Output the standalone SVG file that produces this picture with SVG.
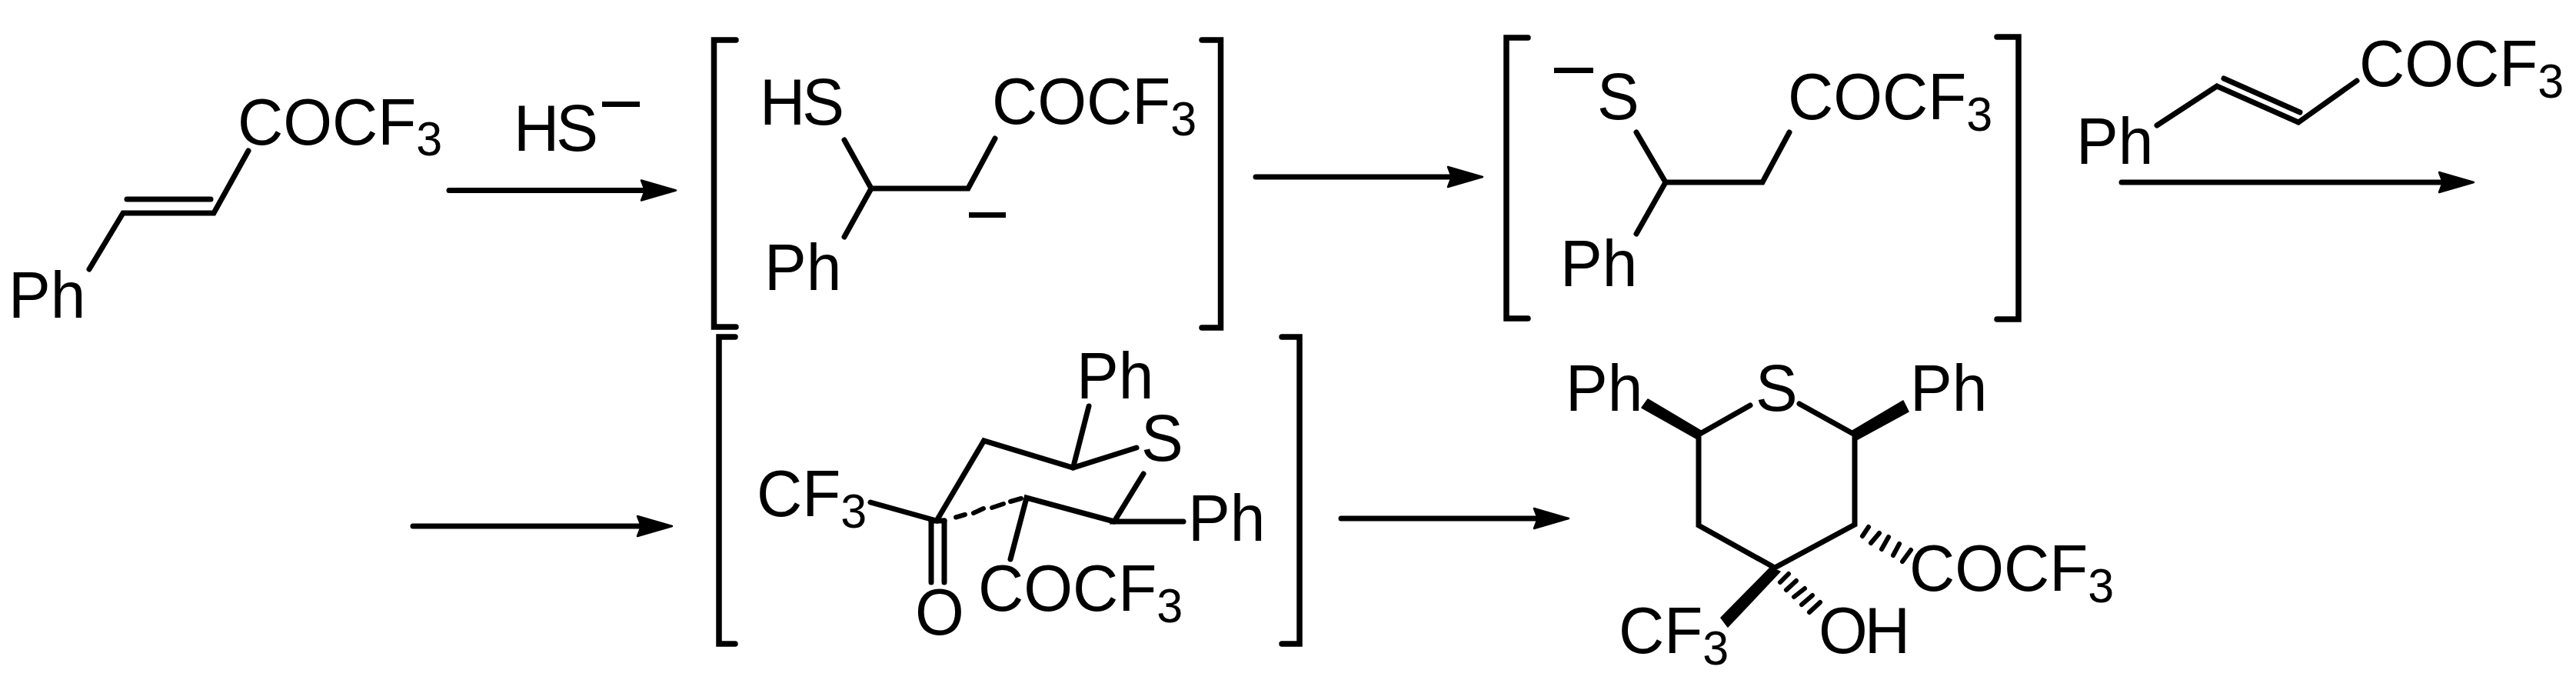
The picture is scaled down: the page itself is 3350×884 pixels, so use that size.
<svg xmlns="http://www.w3.org/2000/svg" width="3350" height="884" viewBox="0 0 3350 884">
<style>
text{font-family:"Liberation Sans",Arial,sans-serif;font-size:82px;fill:#000}
.s{font-size:61px}
.t{letter-spacing:-4px}
.b{fill:none;stroke:#000;stroke-width:7;stroke-linecap:round;stroke-linejoin:miter}
.br{fill:none;stroke:#000;stroke-width:7.500;stroke-linecap:round;stroke-linejoin:miter}
.a{fill:none;stroke:#000;stroke-width:7;stroke-linecap:round}
.h{fill:none;stroke:#000;stroke-width:6;stroke-linecap:round}
.w{fill:#000;stroke:#000;stroke-width:1.500;stroke-linejoin:round}
.m{fill:#000}
</style>
<defs>
<marker id="head" markerUnits="userSpaceOnUse" markerWidth="50" markerHeight="30" refX="6" refY="14" orient="auto" overflow="visible">
<path d="M2,1 L47,14 L2,27 L7,14 Z" fill="#000" stroke="#000" stroke-width="2.500" stroke-linejoin="round"/>
</marker>
</defs>
<rect width="3350" height="884" fill="#fff"/>
<g id="connectors">
<path class="a" marker-end="url(#head)" d="M584,247.500H838"/>
<path class="a" marker-end="url(#head)" d="M1633,230H1887"/>
<path class="a" marker-end="url(#head)" d="M2759,237H3176"/>
<path class="a" marker-end="url(#head)" d="M537,684H833"/>
<path class="a" marker-end="url(#head)" d="M1744,674H1999"/>
</g>
<g id="enone-1">
<path class="b" d="M116,350L160,277H278L323,196"/>
<path class="b" d="M165,259H274"/>
<text transform="translate(309,187.500) scale(1,1.040)">COCF<tspan class="s" dy="14.400">3</tspan></text>
<text transform="translate(11,413) scale(1,1.040)">Ph</text>
</g>
<g id="reagent-hs">
<text class="t" transform="translate(668,196) scale(1,1.040)">HS</text>
<rect class="m" x="783" y="132" width="49" height="7"/>
</g>
<g id="intermediate-1">
<path class="br" d="M957,52H928.500V425H957"/>
<path class="br" d="M1563,52H1587.500V426H1563"/>
<path class="b" d="M1098,182L1133,245H1259L1294,180"/>
<path class="b" d="M1133,245L1098,308"/>
<text class="t" transform="translate(988,161.500) scale(1,1.040)">HS</text>
<text transform="translate(994,377) scale(1,1.040)">Ph</text>
<text transform="translate(1290,161) scale(1,1.040)">COCF<tspan class="s" dy="14.400">3</tspan></text>
<rect class="m" x="1260" y="276" width="48" height="7"/>
</g>
<g id="intermediate-2">
<path class="br" d="M1987,49H1959V414H1987"/>
<path class="br" d="M2597,48H2625V415H2597"/>
<path class="b" d="M2128,172L2166,237H2292L2327,172"/>
<path class="b" d="M2166,237L2128,304"/>
<rect class="m" x="2021" y="88" width="51" height="7"/>
<text transform="translate(2077,155) scale(1,1.040)">S</text>
<text transform="translate(2029,372) scale(1,1.040)">Ph</text>
<text transform="translate(2325,155) scale(1,1.040)">COCF<tspan class="s" dy="14.400">3</tspan></text>
</g>
<g id="enone-2">
<path class="b" d="M2805,163L2883,112L2989,159L3065,105"/>
<path class="b" d="M2892,102L2991,146"/>
<text transform="translate(2700,213) scale(1,1.040)">Ph</text>
<text transform="translate(3068,112) scale(1,1.040)">COCF<tspan class="s" dy="14.400">3</tspan></text>
</g>
<g id="intermediate-3">
<path class="br" d="M956,438H935V837H956"/>
<path class="br" d="M1667,438H1690V837H1667"/>
<path class="b" d="M1132,653L1218,677L1279.500,573L1395.500,608L1478,582"/>
<path class="b" d="M1395.500,608L1416,528"/>
<path class="b" d="M1487,616L1449,678H1539"/>
<path class="b" d="M1449,678L1335,647L1314,727"/>
<path class="b" d="M1211,677V757M1228,677V757"/>
<path class="b" d="M1211,677H1228"/>
<path class="h" d="M1243,672.500L1255,669M1266,667L1279,661M1290,660L1305,655M1314,652L1328,648"/>
<text transform="translate(1400,517.500) scale(1,1.040)">Ph</text>
<text transform="translate(1484,599) scale(1,1.040)">S</text>
<text transform="translate(984,671) scale(1,1.040)">CF<tspan class="s" dy="14.400">3</tspan></text>
<text transform="translate(1545,703) scale(1,1.040)">Ph</text>
<text transform="translate(1272,794) scale(1,1.040)">COCF<tspan class="s" dy="14.400">3</tspan></text>
<text transform="translate(1190,825) scale(1,1.040)">O</text>
</g>
<g id="product">
<path class="b" d="M2276,527L2209,565V683L2308,738L2412,682V565L2340,525"/>
<polygon class="w" points="2143,519 2135,530 2206,570 2212,560"/>
<polygon class="w" points="2475,521 2482,535 2414,572 2409,560"/>
<polygon class="w" points="2302,738 2315,743 2247,815 2238,803"/>
<path class="h" d="M2422,697L2430,685M2433,706L2444,693M2447,714L2456,698M2462,722L2470,707M2474,730L2485,715"/>
<path class="h" d="M2315,757L2326,746M2323,767L2336,755M2333,776L2347,765M2343,786L2357,774M2353,796L2367,783"/>
<text transform="translate(2036,534) scale(1,1.040)">Ph</text>
<text transform="translate(2283,534) scale(1,1.040)">S</text>
<text transform="translate(2484,534) scale(1,1.040)">Ph</text>
<text transform="translate(2483,768) scale(1,1.040)">COCF<tspan class="s" dy="14.400">3</tspan></text>
<text transform="translate(2105,849) scale(1,1.040)">CF<tspan class="s" dy="14.400">3</tspan></text>
<text class="t" transform="translate(2365,849) scale(1,1.040)">OH</text>
</g>
</svg>
